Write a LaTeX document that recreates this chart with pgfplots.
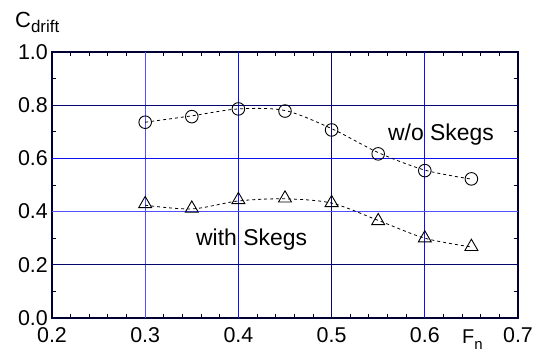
\documentclass[border=0pt]{standalone}
\usepackage{fontspec}
\setmainfont{Liberation Sans}
\usepackage{pgfplots}
\pgfplotsset{compat=1.18}
\definecolor{gLight}{RGB}{80,80,255}
\definecolor{gBlue}{RGB}{15,15,245}
\definecolor{gNavy}{RGB}{5,5,110}
\begin{document}
\begin{tikzpicture}
\begin{axis}[
  scale only axis,
  width=466bp, height=266bp,
  xmin=0.2, xmax=0.7, ymin=0, ymax=1.0,
  xtick={0.2,0.3,0.4,0.5,0.6,0.7},
  ytick={0,0.2,0.4,0.6,0.8,1.0},
  minor x tick num=4,
  minor y tick num=1,
  tick align=inside,
  major tick length=6bp,
  minor tick length=4bp,
  tick style={black!85!blue, line width=0.9bp},
  axis line style={black!80!blue, line width=1.3bp},
  /pgf/number format/assume math mode=true,
  /pgf/number format/fixed,
  /pgf/number format/fixed zerofill,
  /pgf/number format/precision=1,
  ticklabel style={font=\fontsize{21.5}{24}\selectfont},
  xticklabel style={anchor=base, yshift=-24bp, inner sep=0pt},
  yticklabel style={anchor=east, xshift=-4bp, inner sep=0pt},
  xlabel={}, ylabel={},
  clip=false,
]
% grid lines
\draw[gLight, line width=1.3bp] (axis cs:0.3,0) -- (axis cs:0.3,1);
\draw[gBlue, line width=1.2bp] (axis cs:0.4,0) -- (axis cs:0.4,1);
\draw[gNavy, line width=1.2bp] (axis cs:0.5,0) -- (axis cs:0.5,1);
\draw[gBlue, line width=1.2bp] (axis cs:0.6,0) -- (axis cs:0.6,1);
\draw[gNavy, line width=1.2bp] (axis cs:0.2,0.2) -- (axis cs:0.7,0.2);
\draw[gLight, line width=1.3bp] (axis cs:0.2,0.4) -- (axis cs:0.7,0.4);
\draw[gBlue, line width=1.2bp] (axis cs:0.2,0.6) -- (axis cs:0.7,0.6);
\draw[gNavy, line width=1.2bp] (axis cs:0.2,0.8) -- (axis cs:0.7,0.8);

% fitted curves
\addplot[black, line width=0.8bp, dash pattern=on 3bp off 3bp, smooth, no marks] coordinates {
 (0.30,0.736) (0.35,0.760) (0.40,0.786) (0.45,0.780) (0.50,0.712) (0.55,0.622) (0.60,0.556) (0.65,0.522)};
\addplot[black, line width=0.8bp, dash pattern=on 3bp off 3bp, smooth, no marks] coordinates {
 (0.30,0.424) (0.35,0.410) (0.40,0.440) (0.45,0.448) (0.50,0.432) (0.55,0.367) (0.60,0.300) (0.65,0.267)};

% markers
\addplot[only marks, mark=o, mark size=6.3bp, mark options={black, line width=0.9bp, fill=none}] coordinates {
 (0.30,0.736) (0.35,0.757) (0.40,0.786) (0.45,0.778) (0.50,0.707) (0.55,0.617) (0.60,0.554) (0.65,0.523)};
\addplot[only marks, mark=triangle, mark size=7.5bp, mark options={black, line width=0.9bp, fill=none}] coordinates {
 (0.30,0.429) (0.35,0.412) (0.40,0.444) (0.45,0.450) (0.50,0.433) (0.55,0.365) (0.60,0.300) (0.65,0.268)};

% annotations
\node[anchor=base west, inner sep=0pt, font=\fontsize{23}{26}\selectfont] at (axis cs:0.5605,0.669) {w/o Skegs};
\node[anchor=base west, inner sep=0pt, font=\fontsize{23}{26}\selectfont] at (axis cs:0.3545,0.274) {with Skegs};

% axis labels
\node[anchor=base west, inner sep=0pt] at ([xshift=-37bp, yshift=24bp]rel axis cs:0,1) {\fontsize{22}{25}\selectfont C\raisebox{-5bp}{\fontsize{17}{19}\selectfont drift}};
\node[anchor=base west, inner sep=0pt] at ([yshift=-25bp]axis cs:0.6399,0) {\fontsize{20}{23}\selectfont F\raisebox{-6bp}{\fontsize{15}{17}\selectfont n}};
\end{axis}
\path[use as bounding box] ([xshift=-52bp, yshift=-34bp]current axis.south west) rectangle ([xshift=20bp, yshift=52bp]current axis.north east);
\end{tikzpicture}
\end{document}
